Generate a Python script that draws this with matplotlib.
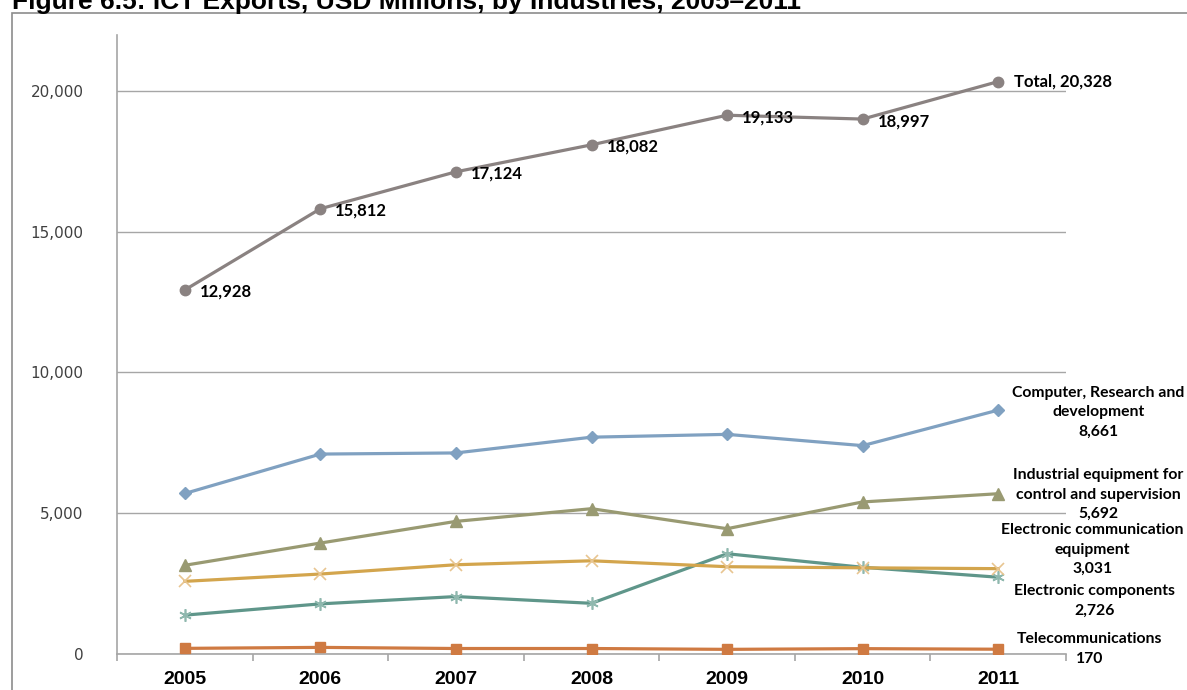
import matplotlib
matplotlib.use("Agg")
import matplotlib.pyplot as plt
from matplotlib.patches import Rectangle

# ICT exports by industry, USD millions
years = [2005, 2006, 2007, 2008, 2009, 2010, 2011]
total = [12928, 15812, 17124, 18082, 19133, 18997, 20328]
computer_rd = [5700, 7100, 7140, 7700, 7800, 7400, 8661]
industrial_equip = [3150, 3940, 4710, 5160, 4450, 5400, 5692]
comm_equip = [2580, 2840, 3170, 3310, 3100, 3060, 3031]
components = [1380, 1780, 2040, 1800, 3560, 3080, 2726]
telecom = [200, 235, 195, 195, 165, 190, 170]

series_names = [
    "Total",
    "Computer, Research and\ndevelopment",
    "Industrial equipment for\ncontrol and supervision",
    "Electronic communication\nequipment",
    "Electronic components",
    "Telecommunications",
]
yticks = [0, 5000, 10000, 15000, 20000]

W, H = 1187, 690
fig = plt.figure(figsize=(W / 100, H / 100), dpi=100)

# outer chart frame
fig.patches.append(Rectangle((12 / W, -0.05), 1.2, 1 - 13 / H + 0.05,
                             transform=fig.transFigure, fill=False,
                             edgecolor="#8c8c8c", linewidth=1.2))

fig.text(12 / W, 1 - 9 / H, "Figure 6.5: ICT Exports, USD Millions, by Industries, 2005\u20132011",
         fontsize=19, fontweight="bold", family="Liberation Sans", color="black",
         ha="left", va="baseline")

left, right, bottom, top = 117, 1066, 654, 34.5
ax = fig.add_axes([left / W, (H - bottom) / H, (right - left) / W, (bottom - top) / H])
ax.set_xlim(2004.5, 2011.5)
ax.set_ylim(0, 22000)

for s in ["top", "right"]:
    ax.spines[s].set_visible(False)
for s in ["left", "bottom"]:
    ax.spines[s].set_color("#a6a6a6")
    ax.spines[s].set_linewidth(1.2)

ax.set_yticks(yticks)
ax.set_yticklabels([f"{v:,}" for v in yticks], fontsize=11, color="#404040",
                   family="DejaVu Sans")
ax.tick_params(axis="y", length=0, pad=24)
ax.yaxis.grid(True, color="#a6a6a6", linewidth=1.0)
ax.set_axisbelow(True)

# category boundaries carry the tick marks, labels sit at category centres
ax.set_xticks([y - 0.5 for y in years] + [years[-1] + 0.5])
ax.set_xticklabels([])
ax.tick_params(axis="x", which="major", length=5, color="#a6a6a6", width=1.2)
ax.set_xticks(years, minor=True)
ax.set_xticklabels([str(y) for y in years], minor=True, fontsize=14,
                   fontweight="bold", family="Liberation Sans")
ax.tick_params(axis="x", which="minor", length=0, pad=12)

lw = 2.3
ax.plot(years, telecom, color="#cf7a42", lw=lw, marker="s", ms=7.5,
        mfc="#cf7a42", mec="#cf7a42", zorder=3)
ax.plot(years, components, color="#5f968a", lw=lw, marker=(6, 2, 0), ms=9,
        mec="#8fb8ae", mew=1.2, zorder=3)
ax.plot(years, comm_equip, color="#d3a54d", lw=lw, marker="x", ms=8,
        mec="#e8c590", mew=1.2, zorder=3)
ax.plot(years, industrial_equip, color="#999a72", lw=lw, marker="^", ms=8,
        mfc="#999a72", mec="#999a72", zorder=3)
ax.plot(years, computer_rd, color="#80a1c1", lw=lw, marker="D", ms=6,
        mfc="#80a1c1", mec="#80a1c1", zorder=3)
ax.plot(years, total, color="#8a8281", lw=lw, marker="o", ms=7.5,
        mfc="#8a8281", mec="#8a8281", zorder=3)

lab = dict(fontweight="bold", family="Lato", color="black",
           textcoords="offset pixels", annotation_clip=False)

# point labels along the total line
for x, v in zip(years[:-1], total[:-1]):
    ax.annotate(f"{v:,}", (x, v), xytext=(15, -2), ha="left", va="center",
                fontsize=12, **lab)
ax.annotate(f"{series_names[0]}, {total[-1]:,}", (years[-1], total[-1]),
            xytext=(16, 0), ha="left", va="center", fontsize=12, **lab)

# end-of-line series labels
end_series = [
    (computer_rd, series_names[1], (100, -2)),
    (industrial_equip, series_names[2], (100, -1)),
    (comm_equip, series_names[3], (94, 19)),
    (components, series_names[4], (96, -24)),
    (telecom, series_names[5], (91, 0)),
]
for vals, name, off in end_series:
    ax.annotate(f"{name}\n{vals[-1]:,}", (years[-1], vals[-1]), xytext=off,
                ha="center", va="center", multialignment="center",
                linespacing=1.5, fontsize=11.3, **lab)

fig.savefig("out.png", dpi=100)
